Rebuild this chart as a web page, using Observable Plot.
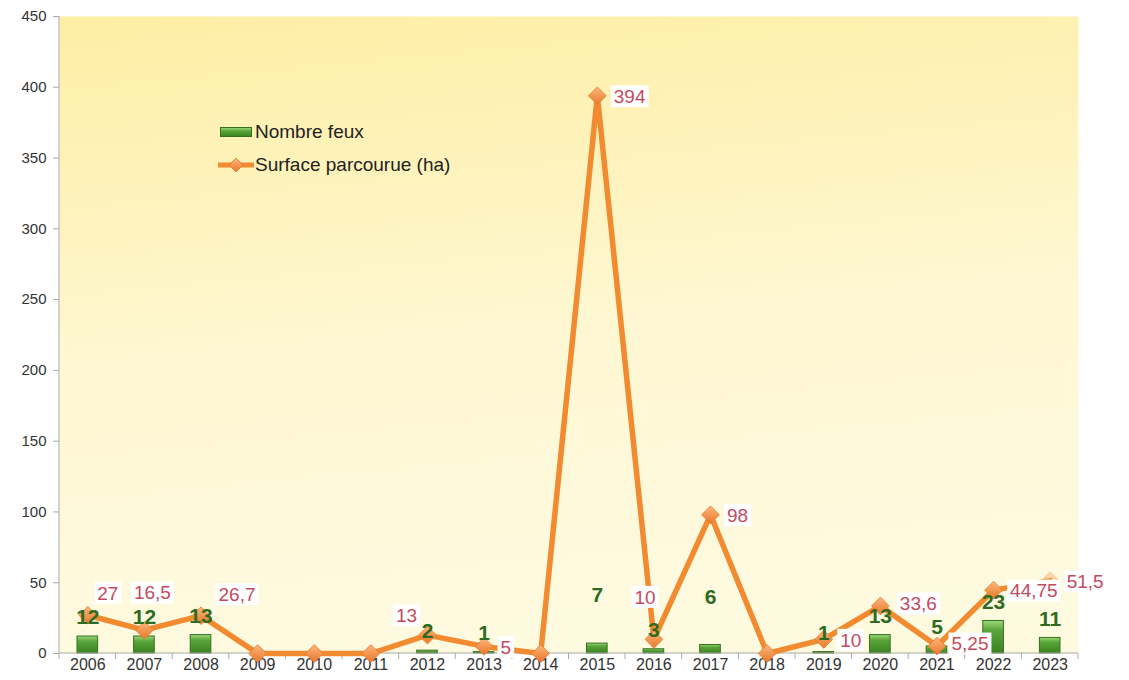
<!DOCTYPE html>
<html><head><meta charset="utf-8">
<script src="https://cdn.jsdelivr.net/npm/d3@7"></script>
<script src="https://cdn.jsdelivr.net/npm/@observablehq/plot@0.6"></script>
<style>
body{margin:0;background:#fff;font-family:"Liberation Sans",Arial,sans-serif;}
#wrap{position:relative;width:1129px;height:680px;overflow:hidden;}
#wrap svg.chart{position:absolute;left:0;top:0;}
.legend{position:absolute;left:218px;top:115px;font-size:19px;color:#222;}
.legend div{display:flex;align-items:center;height:33px;}
.legend svg{margin-right:1px;}
</style></head><body><div id="wrap">
<div class="legend">
  <div><svg width="36" height="14"><defs><linearGradient id="lg1" x1="0" y1="0" x2="0" y2="1"><stop offset="0" stop-color="#9fd97e"/><stop offset="0.4" stop-color="#5aa63a"/><stop offset="1" stop-color="#3a8222"/></linearGradient></defs><rect x="2.5" y="2.5" width="31" height="9" fill="url(#lg1)" stroke="#346f1e"/></svg><span>Nombre feux</span></div>
  <div><svg width="36" height="18"><defs><linearGradient id="lg2" x1="0" y1="0" x2="0" y2="1"><stop offset="0" stop-color="#fbb77e"/><stop offset="1" stop-color="#e8782a"/></linearGradient></defs><line x1="0" x2="36" y1="9" y2="9" stroke="#f28a30" stroke-width="5"/><path d="M18 2 L25 9 L18 16 L11 9 Z" fill="url(#lg2)" stroke="#e8782a" stroke-width="0.8"/></svg><span>Surface parcourue (ha)</span></div>
</div>
</div>
<script>
const years = [2006,2007,2008,2009,2010,2011,2012,2013,2014,2015,2016,2017,2018,2019,2020,2021,2022,2023];
const fires = [12,12,13,0,0,0,2,1,0,7,3,6,0,1,13,5,23,11];
const surface = [27,16.5,26.7,0,0,0,13,5,0,394,10,98,0,10,33.6,5.25,44.75,51.5];
const yTicks = [0,50,100,150,200,250,300,350,400,450];

// label placement (pixels, relative to point)
const surfDefault = [17, 1];
const surfOffset = {"2006":[10,-22],"2007":[-10,-37],"2008":[18,-21],"2012":[-31,-19],"2016":[-19,-42],"2020":[20,-2],"2021":[15,-2]};
const countDefault = -19;
const countOffset = {"2015":-48,"2017":-48};

const rows = years.map((y,i)=>({year:String(y), fires:fires[i], surface:surface[i]}));
const fmt = v => String(v).replace(".", ",");

const W = 1129, H = 680, ML = 59, MR = 51, MT = 16, MB = 27;
const FONT = "'Liberation Sans', Arial, sans-serif";

const defs = () => {
  const d = d3.create("svg:defs");
  const bg = d.append("linearGradient").attr("id","bg").attr("x1",0).attr("y1",0).attr("x2",0.15).attr("y2",1);
  bg.append("stop").attr("offset",0).attr("stop-color","#feeea4");
  bg.append("stop").attr("offset",0.55).attr("stop-color","#fef7d2");
  bg.append("stop").attr("offset",1).attr("stop-color","#fefae0");
  const bar = d.append("linearGradient").attr("id","barg").attr("x1",0).attr("y1",0).attr("x2",0).attr("y2",1);
  bar.append("stop").attr("offset",0).attr("stop-color","#9fd97e");
  bar.append("stop").attr("offset",0.3).attr("stop-color","#5aa63a");
  bar.append("stop").attr("offset",1).attr("stop-color","#3a8222");
  const dot = d.append("linearGradient").attr("id","dotg").attr("x1",0).attr("y1",0).attr("x2",0).attr("y2",1);
  dot.append("stop").attr("offset",0).attr("stop-color","#fbb77e");
  dot.append("stop").attr("offset",1).attr("stop-color","#e8782a");
  return d.node();
};

const axisLines = (index, scales, values, dims) => {
  const x = scales.x, y = scales.y;
  const g = d3.create("svg:g").attr("stroke","#a9a9a9").attr("fill","none");
  const y0 = y(0), left = dims.marginLeft, right = dims.width - dims.marginRight;
  const bw = x.bandwidth ? x.bandwidth() : (right-left)/years.length;
  g.append("line").attr("x1",left).attr("x2",left).attr("y1",y(450)).attr("y2",y0);
  g.append("line").attr("x1",left).attr("x2",right).attr("y1",y0).attr("y2",y0);
  const dom = x.domain();
  const bounds = dom.map(d=>x(d)).concat([x(dom[dom.length-1]) + bw]);
  for (const b of bounds) g.append("line").attr("x1",b).attr("x2",b).attr("y1",y0).attr("y2",y0+6);
  return g.node();
};

// surface labels with white boxes, positioned through the plot's scales
const surfLabels = (index, scales, values, dims) => {
  const x = scales.x, y = scales.y;
  const bw = x.bandwidth ? x.bandwidth() : (dims.width-dims.marginLeft-dims.marginRight)/years.length;
  const ctx = document.createElement("canvas").getContext("2d");
  ctx.font = "19px " + FONT;
  const g = d3.create("svg:g").attr("font-family", FONT).attr("font-size", 19).attr("text-anchor","start");
  for (const d of rows.filter(r=>r.surface>0)) {
    const o = surfOffset[d.year] || surfDefault;
    const px = x(d.year) + bw/2 + o[0], py = y(d.surface) + o[1];
    const s = fmt(d.surface);
    const w = ctx.measureText(s).width;
    g.append("rect").attr("x", px-3).attr("y", py-11).attr("width", w+6).attr("height", 22).attr("fill","#ffffff");
    g.append("text").attr("x", px).attr("y", py).attr("dy","0.36em").attr("text-anchor","start").attr("fill","#c44a60").text(s);
  }
  return g.node();
};

const countMarks = rows.filter(d=>d.fires>0).map(d => {
  const dy = countOffset[d.year] ?? countDefault;
  return Plot.text([d], {x:"year", y:"fires", text: r=>String(r.fires), dy, textAnchor:"middle",
    fill:"#2f6b1f", fontSize:21, fontWeight:"bold"});
});

const chart = Plot.plot({
  width: W, height: H,
  marginLeft: ML, marginRight: MR, marginTop: MT, marginBottom: MB,
  style: {fontFamily: FONT, fontSize:"15px", background:"transparent", overflow:"visible"},
  x: {type:"band", domain: years.map(String), padding:0, round:false},
  y: {domain:[0,450]},
  marks: [
    defs,
    Plot.frame({fill:"url(#bg)", stroke:null}),
    Plot.barY(rows.filter(d=>d.fires>0), {x:"year", y:"fires", fill:"url(#barg)", stroke:"#346f1e", strokeWidth:1, insetLeft:18, insetRight:18}),
    axisLines,
    Plot.axisY({ticks:yTicks, tickSize:6, tickPadding:7, label:null, stroke:"#a9a9a9", fill:"#333", fontSize:15}),
    Plot.axisX({tickSize:0, tickPadding:5, label:null, fill:"#333", fontSize:16}),
    Plot.line(rows, {x:"year", y:"surface", stroke:"#f28a30", strokeWidth:5.5, strokeLinejoin:"round", strokeLinecap:"round"}),
    Plot.dot(rows, {x:"year", y:"surface", symbol:"diamond2", r:8, fill:"url(#dotg)", stroke:"#e8782a", strokeWidth:0.8,
      fillOpacity: d => d.year === "2023" ? 0.45 : 1, strokeOpacity: d => d.year === "2023" ? 0.3 : 1}),
    surfLabels,
    ...countMarks
  ]
});
chart.classList.add("chart");
const wrap = document.getElementById("wrap");
wrap.insertBefore(chart, wrap.firstChild);
</script>
</body></html>
